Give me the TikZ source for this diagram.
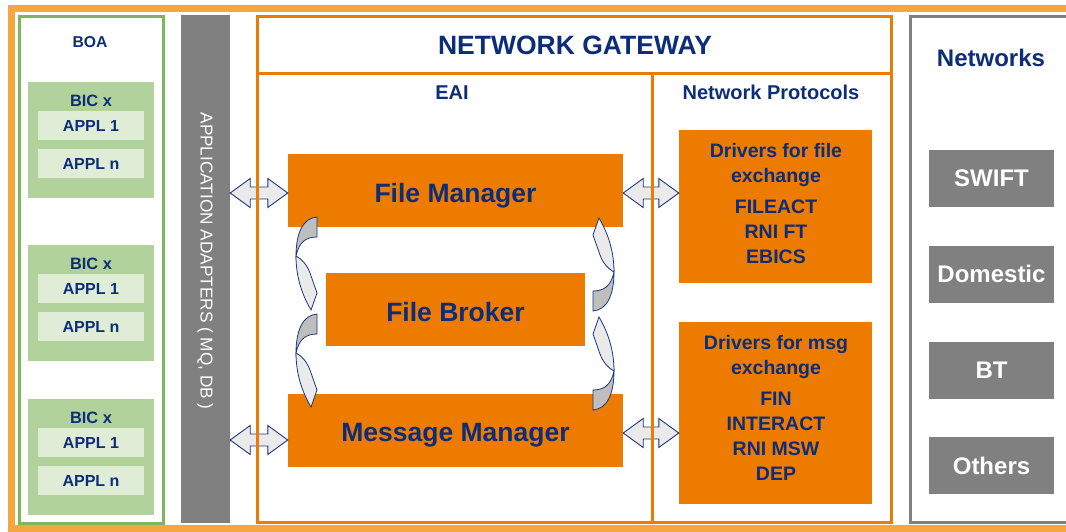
\documentclass[tikz,border=0pt]{standalone}
\usepackage{fontspec}
\setmainfont{Liberation Sans}
\usetikzlibrary{calc}
\definecolor{navy}{RGB}{14,45,120}
\definecolor{lorange}{RGB}{246,166,64}
\definecolor{dorange}{RGB}{236,123,0}
\definecolor{gboa}{RGB}{125,182,92}
\definecolor{gbic}{RGB}{177,211,155}
\definecolor{gappl}{RGB}{224,237,214}
\definecolor{gbar}{RGB}{128,128,128}
\definecolor{arrlight}{RGB}{234,234,234}
\definecolor{arrdark}{RGB}{190,190,190}
\definecolor{arrline}{RGB}{25,55,130}
\tikzset{
  fs/.style={font=\fontsize{#1}{#1}\selectfont\bfseries},
  fsr/.style={font=\fontsize{#1}{#1}\selectfont},
  txt/.style={text=navy, inner sep=0pt, anchor=base},
  bicbox/.style={fill=gbic, minimum width=126pt, minimum height=116pt, inner sep=0pt},
  applbox/.style={fill=gappl, minimum width=106pt, minimum height=29pt, inner sep=0pt, text=navy, fs=16},
  gwline/.style={draw=dorange, line width=3pt, inner sep=0pt},
  gwbox/.style={fill=dorange, inner sep=0pt},
  netbox/.style={fill=gbar, text=white, minimum width=125pt, minimum height=57pt, inner sep=0pt, fs=24},
  blockarr/.style={draw=arrline, fill=arrlight, line width=0.9pt, line join=miter},
  curvdark/.style={draw=arrline, fill=arrdark, line width=0.8pt},
  curvlight/.style={draw=arrline, fill=arrlight, line width=0.8pt},
}
\newcommand\DblArr[2]{\draw[blockarr] let \p1=#1, \p2=#2 in
  (\x1,\y1) -- (\x1+20pt,\y1+14.5pt) -- (\x1+20pt,\y1+6pt) -- (\x2-20pt,\y1+6pt)
  -- (\x2-20pt,\y1+14.5pt) -- (\x2,\y1) -- (\x2-20pt,\y1-14.5pt) -- (\x2-20pt,\y1-6pt)
  -- (\x1+20pt,\y1-6pt) -- (\x1+20pt,\y1-14.5pt) -- cycle;}
\newcommand\CurvArr[2]{%
  \begin{scope}[shift={#1}, rotate=#2]
    \draw[curvdark] (11,-46) .. controls (-3,-45) and (-10,-30) .. (-10,-7)
      .. controls (-7,-21) and (0,-26) .. (11,-26) -- cycle;
    \draw[curvlight] (-10,-7) .. controls (-10,12) and (-5,30) .. (5,47) -- (11,30) -- (4,10)
      .. controls (1,2) and (-4,-4) .. (-10,-7) -- cycle;
  \end{scope}}
\begin{document}
\begin{tikzpicture}[x=1pt,y=-1pt]
\useasboundingbox (0,0) rectangle (1066,531);
\fill[white] (0,0) rectangle (1066,531);
% outer frame
\draw[lorange, line width=7pt] (11.5,8.5) rectangle (1080,528.5);
% BOA
\node[draw=gboa, line width=3pt, minimum width=144pt, minimum height=507pt, inner sep=0pt] (boa) at (91,270) {};
\node[txt, fs=15.7] (boat) at (90,47.6) {BOA};
\foreach \T [count=\i] in {82,245,399} {
  \node[bicbox] (bic\i) at (91,\T+58) {};
  \node[txt, fs=16.4] (bict\i) at (91,\T+24.4) {BIC x};
  \node[applbox] (ap\i) at (91,\T+43.5) {APPL 1};
  \node[applbox] (an\i) at (91,\T+81.5) {APPL n};
}
% adapters bar
\node[fill=gbar, minimum width=49pt, minimum height=508pt, inner sep=0pt] (bar) at (205.5,269) {};
\node[rotate=-90, text=white, inner sep=0pt, fsr=17.2] (bart) at (205,261) {APPLICATION ADAPTERS ( MQ, DB )};
% gateway components
\node[gwbox, minimum width=335pt, minimum height=73pt] (fm) at (455.5,190.5) {};
\node[gwbox, minimum width=259pt, minimum height=73pt] (fb) at (455.5,309.5) {};
\node[gwbox, minimum width=335pt, minimum height=73pt] (mm) at (455.5,430.5) {};
\node[txt, fs=26.5] (fmt) at (455.5,202) {File Manager};
\node[txt, fs=26.5] (fbt) at (455.5,321.5) {File Broker};
\node[txt, fs=26.5] (mmt) at (455.5,441.5) {Message Manager};
\node[gwbox, minimum width=193pt, minimum height=153pt] (dfile) at (775.5,206.5) {};
\node[gwbox, minimum width=193pt, minimum height=182pt] (dmsg) at (775.5,413) {};
\node[text=navy, inner sep=0pt, anchor=north, align=center, font=\fontsize{19.5}{25}\selectfont\bfseries] (dfilet) at (776,143)
  {Drivers for file\\exchange\\[6pt]FILEACT\\RNI FT\\EBICS};
\node[text=navy, inner sep=0pt, anchor=north, align=center, font=\fontsize{19.5}{25}\selectfont\bfseries] (dmsgt) at (776,335)
  {Drivers for msg\\exchange\\[6pt]FIN\\INTERACT\\RNI MSW\\DEP};
% block arrows
\coordinate (ya) at (0,193);
\coordinate (yb) at (0,440);
\coordinate (yc) at (0,433);
\DblArr{(bar.east |- ya)}{(fm.west |- ya)}
\DblArr{(bar.east |- yb)}{(mm.west |- yb)}
\DblArr{(fm.east |- ya)}{(dfile.west |- ya)}
\DblArr{(mm.east |- yc)}{(dmsg.west |- yc)}
% gateway frame
\node[gwline, minimum width=634pt, minimum height=57pt] (gw) at (574,44.5) {};
\node[gwline, minimum width=395pt, minimum height=449pt] (eai) at (454.5,297.5) {};
\node[gwline, minimum width=239pt, minimum height=449pt] (np) at (771.5,297.5) {};
\node[txt, fs=26.5] (gwt) at (575,54.5) {NETWORK GATEWAY};
\node[txt, fs=20] (eait) at (452,99.7) {EAI};
\node[txt, fs=20] (npt) at (771,99.7) {Network Protocols};
% curved arrows
\CurvArr{(306,263)}{0}
\CurvArr{(306,360)}{0}
\CurvArr{(604,265)}{180}
\CurvArr{(604,364)}{180}
% networks
\node[draw=gbar, line width=3pt, minimum width=164.5pt, minimum height=506pt, inner sep=0pt] (nets) at (992.75,269) {};
\node[txt, fs=24] (netst) at (991,66) {Networks};
\node[netbox] (swift) at (991.5,178) {SWIFT};
\node[netbox] (dom) at (991.5,274) {Domestic};
\node[netbox] (bt) at (991.5,370) {BT};
\node[netbox] (oth) at (991.5,465.5) {Others};
\end{tikzpicture}
\end{document}
